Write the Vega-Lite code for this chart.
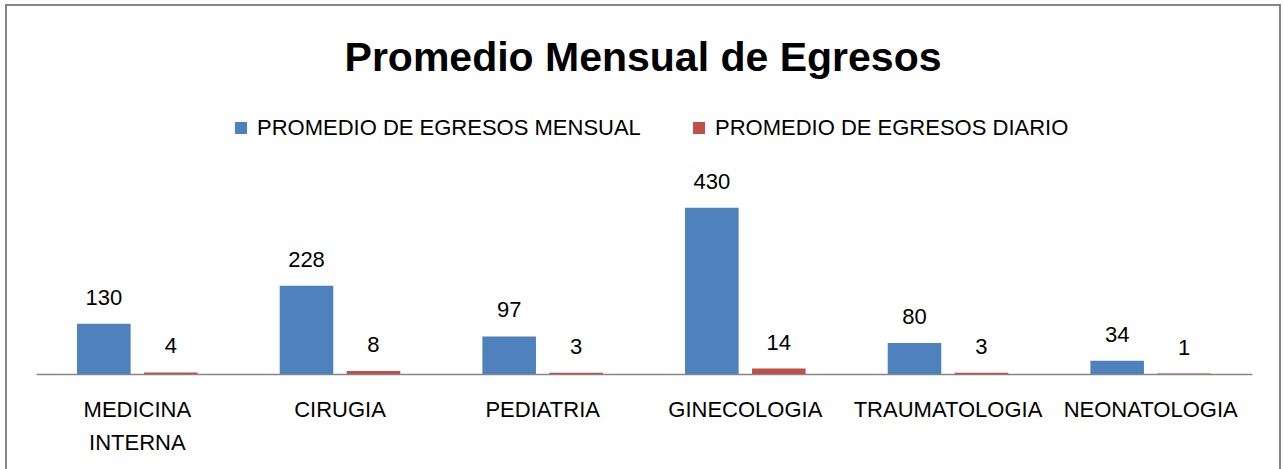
{
  "$schema": "https://vega.github.io/schema/vega-lite/v6.json",
  "width": 1274,
  "height": 470,
  "autosize": {"type": "none"},
  "padding": {"left": 6, "top": 5, "right": 3, "bottom": 0},
  "background": "white",
  "title": {
    "text": "Promedio Mensual de Egresos",
    "font": "Liberation Sans",
    "fontSize": 41,
    "fontWeight": "bold",
    "color": "#000000",
    "anchor": "middle",
    "frame": "group",
    "baseline": "alphabetic",
    "offset": -65,
    "dy": 42
  },
  "data": {
    "values": [
      {"servicio": "MEDICINA INTERNA", "serie": "PROMEDIO DE EGRESOS MENSUAL", "valor": 130},
      {"servicio": "MEDICINA INTERNA", "serie": "PROMEDIO DE EGRESOS DIARIO", "valor": 4},
      {"servicio": "CIRUGIA", "serie": "PROMEDIO DE EGRESOS MENSUAL", "valor": 228},
      {"servicio": "CIRUGIA", "serie": "PROMEDIO DE EGRESOS DIARIO", "valor": 8},
      {"servicio": "PEDIATRIA", "serie": "PROMEDIO DE EGRESOS MENSUAL", "valor": 97},
      {"servicio": "PEDIATRIA", "serie": "PROMEDIO DE EGRESOS DIARIO", "valor": 3},
      {"servicio": "GINECOLOGIA", "serie": "PROMEDIO DE EGRESOS MENSUAL", "valor": 430},
      {"servicio": "GINECOLOGIA", "serie": "PROMEDIO DE EGRESOS DIARIO", "valor": 14},
      {"servicio": "TRAUMATOLOGIA", "serie": "PROMEDIO DE EGRESOS MENSUAL", "valor": 80},
      {"servicio": "TRAUMATOLOGIA", "serie": "PROMEDIO DE EGRESOS DIARIO", "valor": 3},
      {"servicio": "NEONATOLOGIA", "serie": "PROMEDIO DE EGRESOS MENSUAL", "valor": 34},
      {"servicio": "NEONATOLOGIA", "serie": "PROMEDIO DE EGRESOS DIARIO", "valor": 1}
    ]
  },
  "encoding": {
    "x": {
      "field": "servicio",
      "type": "nominal",
      "sort": null,
      "scale": {"range": [30, 1246], "paddingInner": 0.405, "paddingOuter": 0.2025},
      "axis": {
        "title": null,
        "offset": -101,
        "domainColor": "#868686",
        "domainWidth": 1.5,
        "ticks": false,
        "tickSize": 0,
        "labelAngle": 0,
        "labelFont": "Liberation Sans",
        "labelFontSize": 22,
        "labelColor": "#000000",
        "labelPadding": 25,
        "labelBaseline": "top",
        "labelLineHeight": 33,
        "labelOverlap": false,
        "labelLimit": 0,
        "labelExpr": "datum.value == 'MEDICINA INTERNA' ? ['MEDICINA', 'INTERNA'] : datum.label",
        "grid": false
      }
    },
    "xOffset": {
      "field": "serie",
      "type": "nominal",
      "sort": ["PROMEDIO DE EGRESOS MENSUAL", "PROMEDIO DE EGRESOS DIARIO"],
      "scale": {"paddingInner": 0.2, "paddingOuter": 0}
    },
    "y": {
      "field": "valor",
      "type": "quantitative",
      "scale": {"domain": [0, 430], "range": [369, 202.7], "nice": false, "zero": true},
      "axis": null
    }
  },
  "layer": [
    {
      "mark": {"type": "bar"},
      "encoding": {
        "color": {
          "field": "serie",
          "type": "nominal",
          "sort": ["PROMEDIO DE EGRESOS MENSUAL", "PROMEDIO DE EGRESOS DIARIO"],
          "scale": {"domain": ["PROMEDIO DE EGRESOS MENSUAL", "PROMEDIO DE EGRESOS DIARIO"], "range": ["#4F81BD", "#C0504D"]},
          "legend": {
            "title": null,
            "orient": "none",
            "direction": "horizontal",
            "legendX": 224,
            "legendY": 112,
            "padding": 0,
            "symbolType": "square",
            "symbolSize": 144,
            "symbolStrokeWidth": 0,
            "labelFont": "Liberation Sans",
            "labelFontSize": 22,
            "labelColor": "#000000",
            "labelOffset": 5,
            "labelLimit": 0,
            "columnPadding": 47
          }
        }
      }
    },
    {
      "mark": {"type": "text", "baseline": "alphabetic", "dy": -19, "font": "Liberation Sans", "fontSize": 22, "color": "#000000"},
      "encoding": {
        "text": {"field": "valor", "type": "quantitative"}
      }
    }
  ],
  "config": {
    "view": {"stroke": "#868686", "strokeWidth": 2}
  }
}
